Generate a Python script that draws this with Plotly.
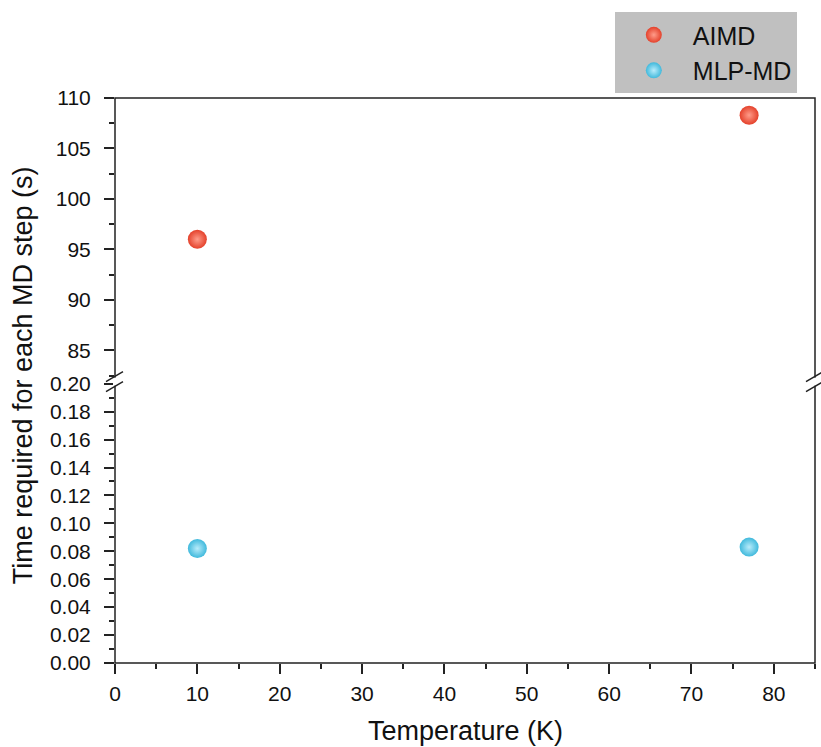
import plotly.graph_objects as go

temps = [10, 77]
aimd = [96.0, 108.3]
mlpmd = [0.082, 0.083]
series_names = ["AIMD", "MLP-MD"]
red = "#e4412b"
blue = "#40b9dc"

FONT = "Liberation Sans, Arial, sans-serif"
fig = go.Figure()

fig.add_trace(go.Scatter(
    x=temps, y=aimd, mode="markers", name=series_names[0], xaxis="x", yaxis="y2",
    marker=dict(size=19, color=red, line=dict(width=0),
                gradient=dict(type="radial", color="#ff9c8a")),
))
fig.add_trace(go.Scatter(
    x=temps, y=mlpmd, mode="markers", name=series_names[1], xaxis="x", yaxis="y",
    marker=dict(size=19, color=blue, line=dict(width=0),
                gradient=dict(type="radial", color="#b8ecfb")),
))

split = 0.498
tickfont = dict(family=FONT, size=21, color="#111")
common = dict(ticks="outside", ticklen=10, tickwidth=1.5, tickcolor="#222",
              showgrid=False, zeroline=False, showline=False, tickfont=tickfont)
fig.update_layout(
    width=821, height=747,
    margin=dict(l=115, r=6, t=98, b=84),
    plot_bgcolor="white", paper_bgcolor="white",
    font=dict(family=FONT, color="#111"),
    xaxis=dict(range=[0, 85], dtick=10, tick0=0, anchor="y", ticklabelstandoff=2,
               minor=dict(dtick=5, tick0=0, ticks="outside", ticklen=5, tickwidth=1.5,
                          tickcolor="#222", showgrid=False),
               **common),
    yaxis=dict(domain=[0, split], range=[0, 0.2015], dtick=0.02, tick0=0, tickformat=".2f",
               ticklabelstandoff=9,
               minor=dict(dtick=0.01, tick0=0, ticks="outside", ticklen=5, tickwidth=1.5,
                          tickcolor="#222", showgrid=False),
               **common),
    yaxis2=dict(domain=[split, 1], range=[81.9, 110], dtick=5, tick0=0, anchor="x",
                ticklabelstandoff=9,
                minor=dict(dtick=2.5, tick0=0, ticks="outside", ticklen=5, tickwidth=1.5,
                           tickcolor="#222", showgrid=False),
                **common),
    legend=dict(x=0.714, xanchor="left", y=1.152, yanchor="top", bgcolor="#c0c0c0",
                font=dict(family=FONT, size=25, color="#111"), itemsizing="trace",
                itemwidth=68, tracegroupgap=0, borderwidth=0),
    showlegend=True,
)

# frame
fig.add_shape(type="rect", xref="paper", yref="paper", x0=0, x1=1, y0=0, y1=1,
              line=dict(color="#222", width=1.5), layer="above")

# break marks on both sides
for xa in [0, 1]:
    fig.add_shape(type="line", xref="paper", yref="paper",
                  xsizemode="pixel", ysizemode="pixel",
                  xanchor=xa, yanchor=split,
                  x0=0, x1=0, y0=-4, y1=4,
                  line=dict(color="white", width=4))
    for dy in [-5, 5]:
        fig.add_shape(type="line", xref="paper", yref="paper",
                      xsizemode="pixel", ysizemode="pixel",
                      xanchor=xa, yanchor=split,
                      x0=-9, x1=8, y0=dy - 5, y1=dy + 5,
                      line=dict(color="#222", width=1.5))

fig.add_annotation(text="Time required for each MD step (s)", xref="paper", yref="paper",
                   x=-0.131, y=0.51, xanchor="center", yanchor="middle", textangle=-90,
                   showarrow=False, font=dict(family=FONT, size=27, color="#111"))
fig.add_annotation(text="Temperature (K)", xref="paper", yref="paper",
                   x=0.5, y=-0.12, xanchor="center", yanchor="middle",
                   showarrow=False, font=dict(family=FONT, size=27, color="#111"))

fig.write_html("out.html")
